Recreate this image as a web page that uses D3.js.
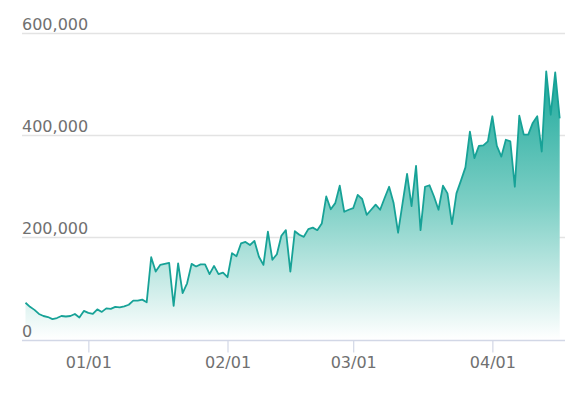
<!DOCTYPE html>
<html>
<head>
<meta charset="utf-8">
<script src="https://cdn.jsdelivr.net/npm/d3@7"></script>
<style>
  html, body { margin: 0; padding: 0; background: #fff; }
  svg { display: block; }
</style>
</head>
<body>
<svg id="chart" width="578" height="398"></svg>
<script>
// daily values, starting 2020-12-18
const startDate = '2020-12-18';
const values = [
  72000, 64000, 58000, 50000, 46000, 44000, 40000, 42000, 46000, 45000,
  46000, 50000, 43000, 56000, 52000, 50000, 59000, 54000, 61000, 60000,
  64000, 63000, 65000, 68000, 76000, 76000, 78000, 73000, 161000, 133000,
  146000, 148000, 150000, 66000, 149000, 91000, 110000, 148000, 143000, 147000,
  147000, 128000, 144000, 128000, 131000, 122000, 169000, 163000, 188000, 191000,
  185000, 193000, 162000, 146000, 211000, 156000, 167000, 203000, 214000, 133000,
  212000, 205000, 201000, 216000, 219000, 214000, 227000, 280000, 255000, 267000,
  301000, 250000, 254000, 257000, 283000, 275000, 244000, 254000, 264000, 254000,
  277000, 299000, 267000, 209000, 267000, 324000, 261000, 340000, 214000, 299000,
  302000, 280000, 254000, 301000, 286000, 226000, 286000, 311000, 337000, 407000,
  355000, 379000, 380000, 388000, 437000, 379000, 358000, 391000, 388000, 299000,
  438000, 401000, 401000, 424000, 437000, 368000, 525000, 440000, 523000, 433000
];
const yTicks = [0, 200000, 400000, 600000];
const xTicks = ['2021-01-01', '2021-02-01', '2021-03-01', '2021-04-01'];

const svg = d3.select('#chart');
const parse = d3.timeParse('%Y-%m-%d');
const fmtX = d3.timeFormat('%m/%d');
const fmtY = d3.format(',');

const t0 = parse(startDate);
const data = values.map((v, i) => ({ date: d3.timeDay.offset(t0, i), value: v }));

const left = 22, right = 565;

const x = d3.scaleTime()
  .domain([data[0].date, data[data.length - 1].date])
  .range([25.5, 559.7]);

const y = d3.scaleLinear()
  .domain([0, 600000])
  .range([339.5, 33]);

// gradient fill
const grad = svg.append('defs').append('linearGradient')
  .attr('id', 'areaGrad')
  .attr('gradientUnits', 'userSpaceOnUse')
  .attr('x1', 0).attr('x2', 0)
  .attr('y1', y(d3.max(values))).attr('y2', y(0));
grad.append('stop').attr('offset', 0).attr('stop-color', '#1ca89b');
grad.append('stop').attr('offset', 0.5).attr('stop-color', '#7fd0c6');
grad.append('stop').attr('offset', 1).attr('stop-color', '#ffffff');

// grid lines
svg.append('g')
  .selectAll('line')
  .data(yTicks.filter(d => d > 0))
  .join('line')
  .attr('x1', left).attr('x2', right)
  .attr('y1', d => Math.round(y(d)) + 0.5)
  .attr('y2', d => Math.round(y(d)) + 0.5)
  .attr('stroke', '#e3e3e3')
  .attr('stroke-width', 1.5);

// area + line
const area = d3.area()
  .x(d => x(d.date))
  .y0(y(0))
  .y1(d => y(d.value));

const line = d3.line()
  .x(d => x(d.date))
  .y(d => y(d.value));

svg.append('path')
  .datum(data)
  .attr('fill', 'url(#areaGrad)')
  .attr('d', area);

svg.append('path')
  .datum(data)
  .attr('fill', 'none')
  .attr('stroke', '#17a297')
  .attr('stroke-width', 1.8)
  .attr('stroke-linejoin', 'round')
  .attr('d', line);

// y labels (on top of the area)
svg.append('g')
  .selectAll('text')
  .data(yTicks)
  .join('text')
  .attr('x', left)
  .attr('y', d => y(d) - 3)
  .attr('fill', '#707070')
  .style('font-family', 'DejaVu Sans, sans-serif')
  .style('font-size', '16px')
  .text(d => fmtY(d));

// x axis
const xAxis = d3.axisBottom(x)
  .tickValues(xTicks.map(parse))
  .tickFormat(fmtX)
  .tickSize(12)
  .tickPadding(4);

const gx = svg.append('g')
  .attr('transform', 'translate(0,' + (Math.round(y(0)) + 0.5) + ')')
  .call(xAxis);
gx.select('.domain').remove();
gx.append('line')
  .attr('x1', left).attr('x2', right)
  .attr('stroke', '#d2d7e6')
  .attr('stroke-width', 1.5);
gx.selectAll('.tick line').attr('stroke', '#d2d7e6').attr('stroke-width', 1.2);
gx.selectAll('.tick text')
  .attr('fill', '#707070')
  .style('font-family', 'DejaVu Sans, sans-serif')
  .style('font-size', '16px');
</script>
</body>
</html>
